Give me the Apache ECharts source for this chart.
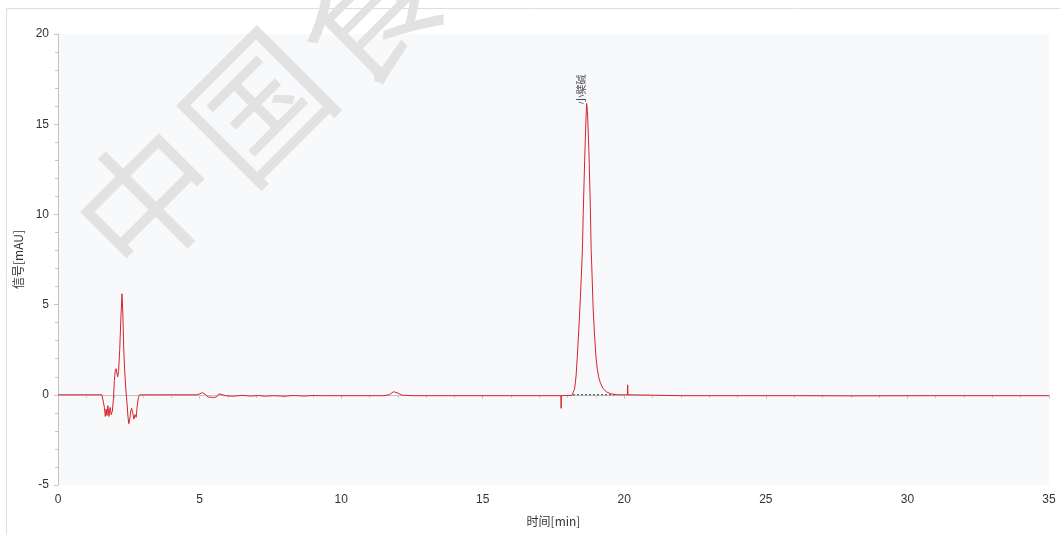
<!DOCTYPE html>
<html>
<head>
<meta charset="utf-8">
<script src="https://cdn.jsdelivr.net/npm/echarts@6/dist/echarts.min.js"></script>
<style>
html,body{margin:0;padding:0;background:#fff;}
#chart{width:1060px;height:535px;}
</style>
</head>
<body>
<div id="chart"></div>
<script>
// ---- data (time in min, signal in mAU) ----
const solventFront = [
  [0,0],[1.55,0],[1.6,-0.1],[1.64,-0.7],[1.67,-1.2],[1.7,-0.8],[1.73,-1.15],[1.76,-0.6],
  [1.8,-1.2],[1.84,-0.7],[1.88,-1.1],[1.92,-0.9],[1.96,-0.2],[1.99,0.8],[2.02,1.3],[2.05,1.45],
  [2.08,1.2],[2.11,1.0],[2.14,1.3],[2.18,2.5],[2.22,4.2],[2.26,5.6],[2.29,4.5],[2.32,2.6],
  [2.36,1.2],[2.4,0.2],[2.44,-0.5],[2.47,-1.2],[2.5,-1.6],[2.53,-1.4],[2.57,-0.9],[2.6,-0.75],
  [2.64,-1.0],[2.68,-1.35],[2.72,-1.1],[2.76,-1.25],[2.8,-0.6],[2.84,-0.15],[2.88,0],[3.5,0]
];
const midBaseline = [
  [4.9,0],[5.0,0.05],[5.1,0.12],[5.2,0.03],[5.3,-0.12],[5.5,-0.15],[5.6,-0.12],[5.68,0.05],
  [5.75,0.12],[5.82,0.0],[5.9,-0.05],[6.2,-0.08],[6.5,-0.03],[6.8,-0.07],[7.1,-0.04],[7.3,-0.08],
  [7.6,-0.05],[8.0,-0.08],[8.3,-0.04],[8.7,-0.07],[9.0,-0.04],[9.3,-0.05],[11.5,-0.05],
  [11.7,0.0],[11.85,0.17],[12.0,0.1],[12.15,-0.02],[12.3,-0.03],[12.5,-0.05],[17.0,-0.05],
  [17.76,-0.05],[17.77,-0.75],[17.78,-0.05],[18.15,-0.03]
];
const mainPeak = [
  [18.2,0.02],[18.24,0.3],[18.27,0.64],[18.3,1.1],[18.34,2.1],[18.4,3.8],[18.45,5.4],[18.5,7.2],
  [18.52,8.0],[18.55,10.0],[18.6,13.0],[18.65,15.4],[18.67,16.15],[18.7,15.7],[18.75,13.5],
  [18.8,10.5],[18.83,8.0],[18.85,7.2],[18.9,4.8],[18.95,3.3],[19.0,2.1],[19.05,1.4],[19.1,0.95],
  [19.16,0.64],[19.25,0.35],[19.37,0.16],[19.5,0.07],[19.65,0.02],[19.8,0.0]
];
const tailBaseline = [
  [20.11,0],[20.12,0.55],[20.13,0],[21,-0.02],[22,-0.05],[26,-0.05],[28,-0.06],[31,-0.05],[35,-0.05]
];
const integrationBase = [[18.19,0],[19.74,0]];
const peakNames = ['小檗碱'];
const peakTimes = [18.67];
const peakHeights = [16.15];
const xTicks = [0,5,10,15,20,25,30,35];
const yTicks = [-5,0,5,10,15,20];

const trace = solventFront.concat(midBaseline, mainPeak, tailBaseline);

const chart = echarts.init(document.getElementById('chart'));
const axisColor = '#c4c4c4';
const labelStyle = {color:'#333', fontSize:12, fontFamily:'Liberation Sans, Arial, sans-serif'};
const wmStyle = {fontSize:138, fontWeight:'normal', fontFamily:'Noto Sans CJK SC', fill:'#e2e2e2', textAlign:'center', textVerticalAlign:'middle'};

chart.setOption({
  animation:false,
  backgroundColor:'#fff',
  graphic:[
    {type:'rect', z:-1, silent:true, shape:{x:6.5,y:8.5,width:1060,height:540}, style:{fill:null, stroke:'#dedede', lineWidth:1}},
    {type:'text', z:1, x:147, y:200, rotation:Math.PI/4, style:Object.assign({text:'中'}, wmStyle)},
    {type:'text', z:1, x:257, y:106, rotation:Math.PI/4, style:Object.assign({text:'国'}, wmStyle)},
    {type:'text', z:1, x:367, y:12, rotation:Math.PI/4, style:Object.assign({text:'食'}, wmStyle)}
  ],
  grid:{left:58, right:11, top:34, bottom:50, show:true, backgroundColor:'#f8f9fb', borderWidth:0},
  xAxis:{
    type:'value', min:xTicks[0], max:xTicks[xTicks.length-1], interval:5,
    name:'时间[min]', nameLocation:'middle', nameGap:30,
    nameTextStyle:{color:'#333', fontSize:12, fontFamily:'Noto Sans CJK SC'},
    axisLine:{show:true, lineStyle:{color:axisColor}},
    axisTick:{show:true, length:4, lineStyle:{color:axisColor}},
    minorTick:{show:true, splitNumber:5, length:3, lineStyle:{color:axisColor}},
    splitLine:{show:false},
    axisLabel:Object.assign({margin:9}, labelStyle)
  },
  yAxis:{
    type:'value', min:yTicks[0], max:yTicks[yTicks.length-1], interval:5,
    name:'信号[mAU]', nameLocation:'middle', nameGap:31,
    nameTextStyle:{color:'#333', fontSize:12, fontFamily:'Noto Sans CJK SC'},
    axisLine:{show:true, onZero:false, lineStyle:{color:axisColor}},
    axisTick:{show:true, length:4, lineStyle:{color:axisColor}},
    minorTick:{show:true, splitNumber:5, length:3, lineStyle:{color:axisColor}},
    splitLine:{show:false},
    axisLabel:Object.assign({margin:9}, labelStyle)
  },
  series:[
    {type:'line', z:3, data:integrationBase, symbol:'none', lineStyle:{color:'#333', width:1, type:[2,2]}},
    {type:'line', z:4, data:trace, symbol:'none', lineStyle:{color:'#d8232a', width:1}},
    {type:'scatter', z:5, symbolSize:0,
     data:peakTimes.map((t,i)=>({value:[t,peakHeights[i]], name:peakNames[i]})),
     label:{show:true, formatter:'{b}', position:'top', distance:14, rotate:90, fontSize:10, color:'#222', fontFamily:'Noto Sans CJK SC'}}
  ]
});
</script>
</body>
</html>
